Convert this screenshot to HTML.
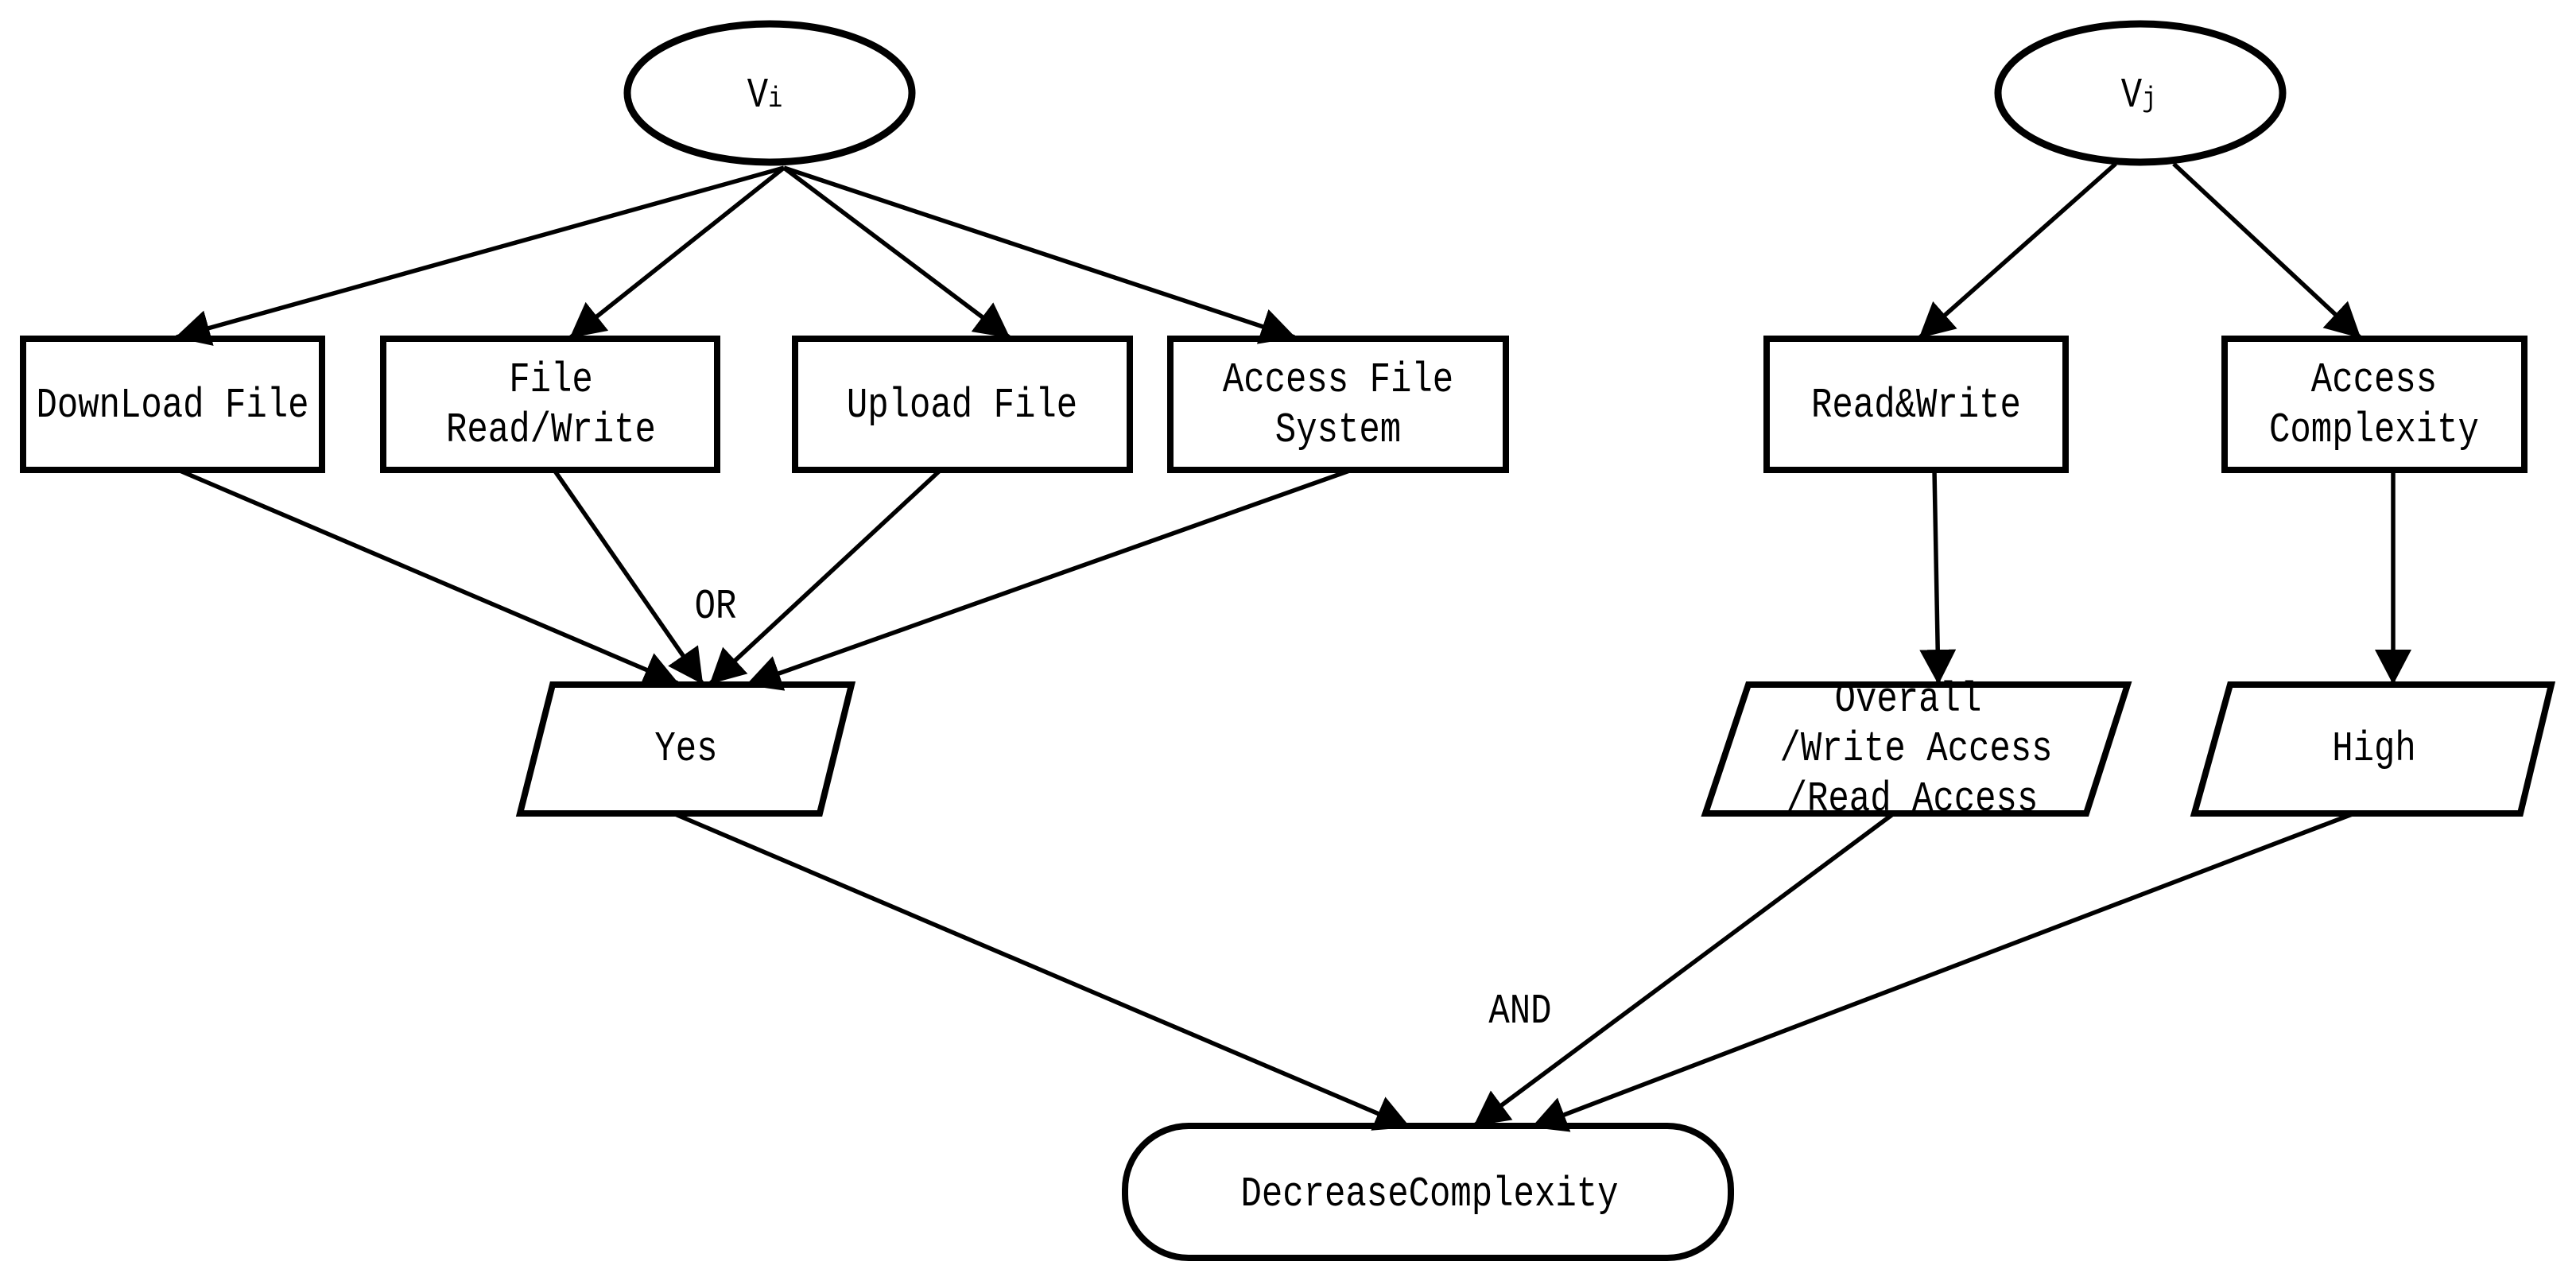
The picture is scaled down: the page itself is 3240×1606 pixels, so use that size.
<!DOCTYPE html>
<html><head><meta charset="utf-8"><style>
html,body{margin:0;padding:0;background:#fff}
svg{display:block}
text{font-family:"Liberation Mono",monospace;font-size:44px;fill:#000}
</style></head><body>
<svg width="3240" height="1606" viewBox="0 0 3240 1606" xmlns="http://www.w3.org/2000/svg">
<defs>
<marker id="a" markerUnits="userSpaceOnUse" markerWidth="46" markerHeight="46" refX="42" refY="23" orient="auto">
<path d="M0,0 L44,23 L0,46 Z" fill="#000"/>
</marker>
</defs>
<g fill="none" stroke="#000" stroke-width="8" stroke-linejoin="miter">
<ellipse cx="968" cy="117" rx="179" ry="87" stroke-width="9"/>
<ellipse cx="2692" cy="117" rx="179" ry="87" stroke-width="9"/>
<rect x="29" y="426" width="376" height="165"/>
<rect x="482" y="426" width="420" height="165"/>
<rect x="1000" y="426" width="421" height="165"/>
<rect x="1472" y="426" width="422" height="165"/>
<rect x="2222" y="426" width="376" height="165"/>
<rect x="2798" y="426" width="377" height="165"/>
<polygon points="695,861 1071,861 1031,1023 654,1023"/>
<polygon points="2199,861 2676,861 2624,1023 2145,1023"/>
<polygon points="2805,861 3209,861 3170,1023 2760,1023"/>
<rect x="1415" y="1416" width="762" height="166" rx="80" ry="80"/>
</g>
<g stroke="#000" stroke-width="5.5" fill="none" marker-end="url(#a)">
<line x1="986" y1="211" x2="222" y2="424"/>
<line x1="986" y1="211" x2="718" y2="424"/>
<line x1="986" y1="211" x2="1269" y2="424"/>
<line x1="986" y1="211" x2="1628" y2="424"/>
<line x1="2661" y1="206" x2="2415" y2="424"/>
<line x1="2734" y1="206" x2="2968" y2="424"/>
<line x1="2433" y1="591" x2="2438" y2="859"/>
<line x1="3010" y1="591" x2="3010" y2="859"/>
<line x1="224" y1="591" x2="852" y2="859"/>
<line x1="697" y1="591" x2="883" y2="859"/>
<line x1="1183" y1="591" x2="894" y2="859"/>
<line x1="1700" y1="591" x2="940" y2="861"/>
<line x1="847" y1="1023" x2="1772" y2="1417"/>
<line x1="2382" y1="1023" x2="1855" y2="1415"/>
<line x1="2961" y1="1023" x2="1928" y2="1417"/>
</g>
<g text-anchor="middle">
<g transform="translate(0,134) scale(1,1.2)"><text x="962" y="0">V<tspan font-size="30">i</tspan></text><text x="2690" y="0">V<tspan font-size="30">j</tspan></text></g>
<g transform="translate(0,524) scale(1,1.2)"><text x="217" y="0">DownLoad File</text><text x="1210" y="0">Upload File</text><text x="2410" y="0">Read&amp;Write</text></g>
<g transform="translate(0,492) scale(1,1.2)"><text x="693" y="0">File</text><text x="1683" y="0">Access File</text><text x="2986" y="0">Access</text></g>
<g transform="translate(0,555) scale(1,1.2)"><text x="693" y="0">Read/Write</text><text x="1683" y="0">System</text><text x="2986" y="0">Complexity</text></g>
<g transform="translate(0,777) scale(1,1.2)"><text x="900" y="0">OR</text></g>
<g transform="translate(0,956) scale(1,1.2)"><text x="863" y="0">Yes</text><text x="2410" y="0">/Write Access</text><text x="2986" y="0">High</text></g>
<g transform="translate(0,894) scale(1,1.2)"><text x="2400" y="0">Overall</text></g>
<g transform="translate(0,1019) scale(1,1.2)"><text x="2405" y="0">/Read Access</text></g>
<g transform="translate(0,1286) scale(1,1.2)"><text x="1912" y="0">AND</text></g>
<g transform="translate(0,1516) scale(1,1.2)"><text x="1798" y="0">DecreaseComplexity</text></g>
</g>
</svg>
</body></html>
